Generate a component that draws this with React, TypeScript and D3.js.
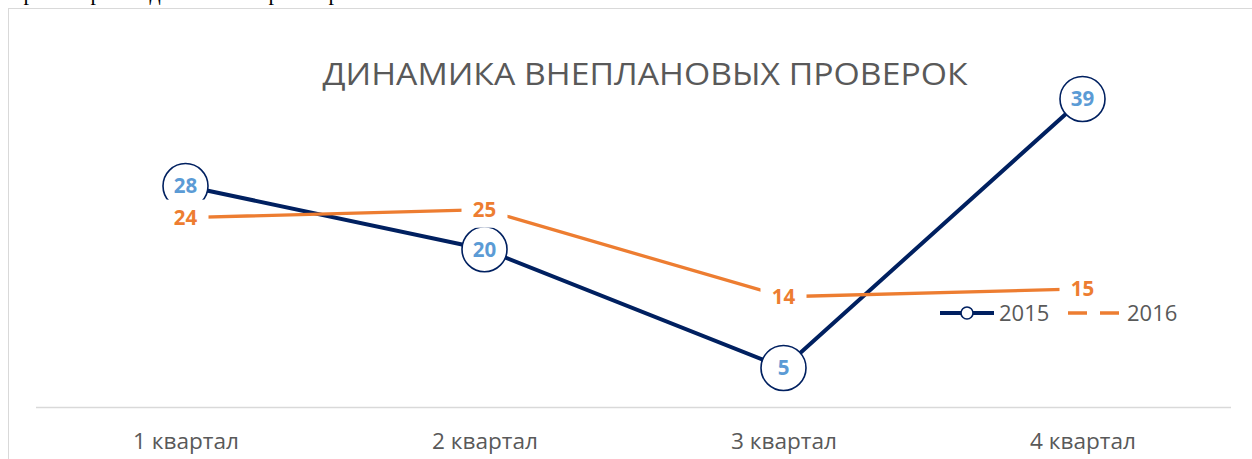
import { useRef, useEffect } from 'react'
import * as d3 from 'd3'

const quarters = ['1 квартал', '2 квартал', '3 квартал', '4 квартал']
const values2015 = [28, 20, 5, 39]
const values2016 = [24, 25, 14, 15]
const seriesNames = ['2015', '2016']
const titleText = 'ДИНАМИКА ВНЕПЛАНОВЫХ ПРОВЕРОК'

const NAVY = '#002060'
const ORANGE = '#ED7D31'
const LABEL_BLUE = '#5B9BD5'
const GREY_TEXT = '#595959'
const FONT = "'Open Sans', 'Noto Sans', sans-serif"

export default function App() {
  const svgRef = useRef<SVGSVGElement>(null)

  useEffect(() => {
    if (!svgRef.current) return
    const width = 1252
    const height = 459

    const svg = d3.select(svgRef.current)
    svg.selectAll('*').remove()
    svg.attr('width', width).attr('height', height)

    // descenders of the page text above the chart, cut off by the crop
    const peek = [
      { ch: 'р', x: 29 }, { ch: 'р', x: 96 }, { ch: 'д', x: 155 },
      { ch: 'р', x: 274 }, { ch: 'р', x: 334 },
    ]
    svg.selectAll('.peek')
      .data(peek)
      .join('text')
      .attr('x', d => d.x)
      .attr('y', -0.5)
      .attr('text-anchor', 'middle')
      .attr('font-family', "'Liberation Serif', serif")
      .attr('font-size', '22px')
      .attr('fill', '#000')
      .text(d => d.ch)

    // chart frame
    svg.append('rect')
      .attr('x', 8.5).attr('y', 8.5)
      .attr('width', width + 20).attr('height', height + 20)
      .attr('fill', '#fff')
      .attr('stroke', '#D9D9D9')
      .attr('stroke-width', 1)

    svg.append('text')
      .attr('x', 645)
      .attr('y', 85)
      .attr('text-anchor', 'middle')
      .attr('font-family', FONT)
      .attr('font-size', '31px')
      .attr('fill', GREY_TEXT)
      .attr('textLength', 645)
      .attr('lengthAdjust', 'spacingAndGlyphs')
      .text(titleText)

    const x = d3.scalePoint<string>()
      .domain(quarters)
      .range([36, 1232])
      .padding(0.5)

    const y = d3.scaleLinear()
      .domain([0, 45])
      .range([407.5, 51.5])

    // category axis
    const axis = svg.append('g')
      .attr('transform', `translate(0,${y(0)})`)
      .call(d3.axisBottom(x).tickSize(0).tickPadding(0))
    axis.select('.domain')
      .attr('d', `M36,0H1231`)
      .attr('stroke', '#D9D9D9')
      .attr('stroke-width', 1.5)
    axis.selectAll('text')
      .attr('y', 41)
      .attr('dy', null)
      .attr('fill', GREY_TEXT)
      .attr('font-size', '21px')
      .attr('font-family', FONT)
      .attr('textLength', 106)
      .attr('lengthAdjust', 'spacingAndGlyphs')

    const pts15 = quarters.map((q, i) => ({ x: x(q)!, y: y(values2015[i]), v: values2015[i] }))
    const pts16 = quarters.map((q, i) => ({ x: x(q)!, y: y(values2016[i]), v: values2016[i] }))
    const line = d3.line<{ x: number; y: number }>().x(d => d.x).y(d => d.y)

    // 2015 line with big circle markers
    svg.append('path')
      .attr('d', line(pts15))
      .attr('fill', 'none')
      .attr('stroke', NAVY)
      .attr('stroke-width', 4)
      .attr('stroke-linejoin', 'round')

    svg.selectAll('.m15')
      .data(pts15)
      .join('circle')
      .attr('cx', d => d.x)
      .attr('cy', d => d.y)
      .attr('r', 22.5)
      .attr('fill', '#fff')
      .attr('stroke', NAVY)
      .attr('stroke-width', 1.6)

    svg.selectAll('.l15')
      .data(pts15)
      .join('text')
      .attr('x', d => d.x)
      .attr('y', d => d.y + 7.5)
      .attr('text-anchor', 'middle')
      .attr('font-family', FONT)
      .attr('font-weight', 700)
      .attr('font-size', '20.5px')
      .attr('fill', LABEL_BLUE)
      .text(d => d.v)

    // 2016 line, labels sit on the points with white boxes
    svg.append('path')
      .attr('d', line(pts16))
      .attr('fill', 'none')
      .attr('stroke', ORANGE)
      .attr('stroke-width', 3.3)

    svg.selectAll('.b16')
      .data(pts16)
      .join('rect')
      .attr('x', d => d.x - 23)
      .attr('y', d => d.y - 18)
      .attr('width', 46)
      .attr('height', 36)
      .attr('fill', '#fff')

    svg.selectAll('.l16')
      .data(pts16)
      .join('text')
      .attr('x', d => d.x)
      .attr('y', d => d.y + 7.5)
      .attr('text-anchor', 'middle')
      .attr('font-family', FONT)
      .attr('font-weight', 700)
      .attr('font-size', '20.5px')
      .attr('fill', ORANGE)
      .text(d => d.v)

    // legend
    const lg = svg.append('g').attr('transform', 'translate(940,313)')
    lg.append('line')
      .attr('x1', 0).attr('x2', 54)
      .attr('stroke', NAVY).attr('stroke-width', 4)
    lg.append('circle')
      .attr('cx', 27).attr('r', 6)
      .attr('fill', '#fff').attr('stroke', NAVY).attr('stroke-width', 1.6)
    lg.append('text')
      .attr('x', 59).attr('y', 8)
      .attr('font-family', FONT).attr('font-size', '22px')
      .attr('fill', GREY_TEXT)
      .text(seriesNames[0])
    lg.append('line')
      .attr('x1', 128).attr('x2', 182)
      .attr('stroke', ORANGE).attr('stroke-width', 3.5)
      .attr('stroke-dasharray', '19,13')
    lg.append('text')
      .attr('x', 187).attr('y', 8)
      .attr('font-family', FONT).attr('font-size', '22px')
      .attr('fill', GREY_TEXT)
      .text(seriesNames[1])
  }, [])

  return (
    <svg
      ref={svgRef}
      style={{ position: 'absolute', left: 0, top: 0, display: 'block', background: '#fff' }}
    />
  )
}
